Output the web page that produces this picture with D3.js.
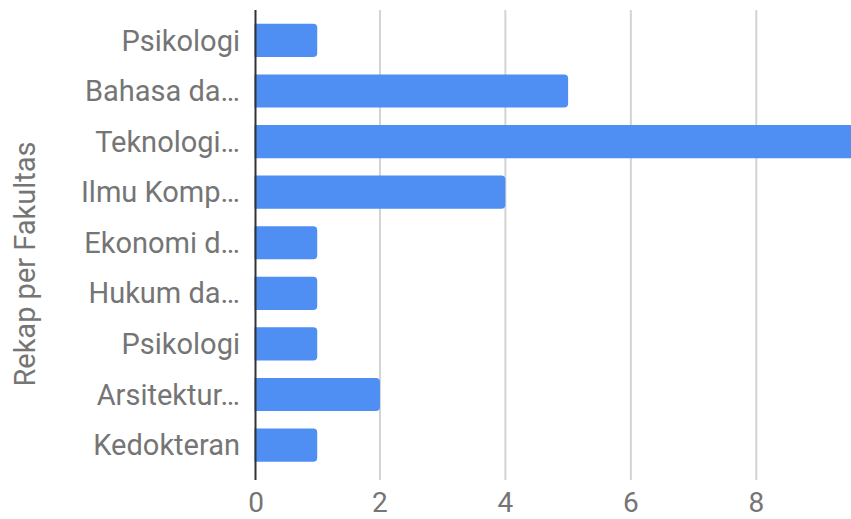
<!DOCTYPE html>
<html>
<head>
<meta charset="utf-8">
<script src="https://cdn.jsdelivr.net/npm/d3@7"></script>
<style>
  html, body { margin: 0; padding: 0; background: #fff; }
  svg { display: block; }
  text { font-family: Roboto, "Noto Sans", sans-serif; }
</style>
</head>
<body>
<svg id="chart" width="851" height="519"></svg>
<script>
const categories = ["Psikologi", "Bahasa da…", "Teknologi…", "Ilmu Komp…", "Ekonomi d…", "Hukum da…", "Psikologi", "Arsitektur…", "Kedokteran"];
const values = [1, 5, 10, 4, 1, 1, 1, 2, 1];
const xTicks = [0, 2, 4, 6, 8];
const axisTitle = "Rekap per Fakultas";

const W = 851, H = 519;
const svg = d3.select("#chart");

const x = d3.scaleLinear().domain([0, 9.51]).range([254.5, 851]);
const y = d3.scaleBand().domain(d3.range(categories.length)).range([15.2, 470.3]).paddingInner(0.345).paddingOuter(0.17);

const plotTop = 10, plotBottom = 480;

svg.append("defs").append("clipPath").attr("id", "clip")
  .append("rect").attr("x", 0).attr("y", 0).attr("width", W).attr("height", H);

// gridlines
svg.append("g").selectAll("line").data(xTicks.filter(d => d !== 0)).join("line")
  .attr("x1", d => x(d)).attr("x2", d => x(d))
  .attr("y1", plotTop).attr("y2", plotBottom)
  .attr("stroke", "#d3d3d3").attr("stroke-width", 2);

// bars with right rounded corners
const r = 4;
svg.append("g").attr("clip-path", "url(#clip)").selectAll("path").data(values).join("path")
  .attr("fill", "#4f8ff3")
  .attr("d", (d, i) => {
    const x0 = x(0), x1 = x(d), y0 = y(i), h = y.bandwidth();
    return `M${x0},${y0} H${x1 - r} Q${x1},${y0} ${x1},${y0 + r} V${y0 + h - r} Q${x1},${y0 + h} ${x1 - r},${y0 + h} H${x0} Z`;
  });

// zero axis line
svg.append("line")
  .attr("x1", x(0) + 1).attr("x2", x(0) + 1)
  .attr("y1", plotTop).attr("y2", plotBottom)
  .attr("stroke", "#333").attr("stroke-width", 2);

// category labels
svg.append("g").selectAll("text").data(categories).join("text")
  .attr("x", 240)
  .attr("y", (d, i) => y(i) + y.bandwidth() / 2)
  .attr("dy", "0.35em")
  .attr("text-anchor", "end")
  .attr("font-size", 29)
  .attr("fill", "#757575")
  .text(d => d);

// x tick labels
svg.append("g").selectAll("text").data(xTicks).join("text")
  .attr("x", d => x(d) + (d === 0 ? 1.5 : 0))
  .attr("y", 512)
  .attr("text-anchor", "middle")
  .attr("font-size", 28)
  .attr("fill", "#757575")
  .text(d => d);

// axis title
svg.append("text")
  .attr("transform", `translate(35,264) rotate(-90)`)
  .attr("text-anchor", "middle")
  .attr("font-size", 29)
  .attr("fill", "#757575")
  .text(axisTitle);
</script>
</body>
</html>
